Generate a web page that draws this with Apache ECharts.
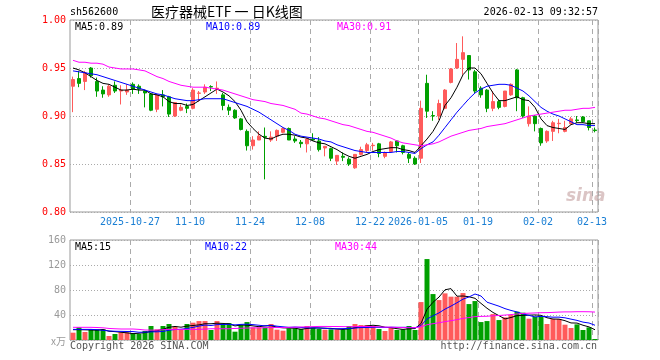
<!DOCTYPE html>
<html><head><meta charset="utf-8">
<script src="https://cdn.jsdelivr.net/npm/echarts@6/dist/echarts.min.js"></script>
<style>html,body{margin:0;padding:0;background:#fff}#c{width:660px;height:360px}</style>
</head><body><div id="c"></div>
<script>
const dates = ['2025-10-13','2025-10-14','2025-10-15','2025-10-16','2025-10-17','2025-10-20','2025-10-21','2025-10-22','2025-10-23','2025-10-24',
'2025-10-27','2025-10-28','2025-10-29','2025-10-30','2025-10-31','2025-11-03','2025-11-04','2025-11-05','2025-11-06','2025-11-07',
'2025-11-10','2025-11-11','2025-11-12','2025-11-13','2025-11-14','2025-11-17','2025-11-18','2025-11-19','2025-11-20','2025-11-21',
'2025-11-24','2025-11-25','2025-11-26','2025-11-27','2025-11-28','2025-12-01','2025-12-02','2025-12-03','2025-12-04','2025-12-05',
'2025-12-08','2025-12-09','2025-12-10','2025-12-11','2025-12-12','2025-12-15','2025-12-16','2025-12-17','2025-12-18','2025-12-19',
'2025-12-22','2025-12-23','2025-12-24','2025-12-25','2025-12-26','2025-12-29','2025-12-30','2025-12-31','2026-01-05','2026-01-06',
'2026-01-07','2026-01-08','2026-01-09','2026-01-12','2026-01-13','2026-01-14','2026-01-15','2026-01-16','2026-01-19','2026-01-20',
'2026-01-21','2026-01-22','2026-01-23','2026-01-26','2026-01-27','2026-01-28','2026-01-29','2026-01-30','2026-02-02','2026-02-03',
'2026-02-04','2026-02-05','2026-02-06','2026-02-09','2026-02-10','2026-02-11','2026-02-12','2026-02-13'];

const open = [0.931,0.939,0.936,0.950,0.936,0.927,0.922,0.932,0.926,0.925,
0.933,0.931,0.926,0.923,0.907,0.922,0.920,0.900,0.906,0.910,
0.908,0.9236,0.925,0.9306,0.928,0.922,0.909,0.906,0.897,0.884,
0.869,0.875,0.8788,0.875,0.879,0.883,0.887,0.876,0.8726,0.871,
0.876,0.874,0.8667,0.866,0.853,0.858,0.855,0.846,0.860,0.864,
0.8691,0.871,0.858,0.863,0.874,0.869,0.860,0.856,0.856,0.934,
0.9004,0.900,0.908,0.935,0.950,0.959,0.963,0.946,0.929,0.927,
0.908,0.915,0.910,0.922,0.948,0.919,0.892,0.900,0.887,0.874,
0.884,0.8920,0.884,0.892,0.8959,0.899,0.895,0.8854];
const close = [0.938,0.934,0.945,0.942,0.926,0.923,0.931,0.926,0.927,0.927,
0.928,0.928,0.924,0.906,0.922,0.920,0.902,0.914,0.909,0.908,
0.927,0.924,0.930,0.9302,0.929,0.911,0.906,0.898,0.886,0.869,
0.875,0.879,0.8778,0.878,0.885,0.887,0.875,0.874,0.8712,0.876,
0.875,0.865,0.8684,0.856,0.859,0.857,0.850,0.860,0.865,0.870,
0.8695,0.861,0.862,0.873,0.869,0.862,0.856,0.850,0.908,0.905,
0.9000,0.913,0.927,0.949,0.959,0.966,0.948,0.926,0.922,0.908,
0.915,0.909,0.926,0.933,0.919,0.900,0.900,0.892,0.872,0.884,
0.893,0.8924,0.888,0.897,0.8952,0.894,0.888,0.8848];
const high = [0.941,0.947,0.947,0.951,0.940,0.931,0.933,0.936,0.932,0.933,
0.935,0.933,0.927,0.924,0.923,0.927,0.921,0.914,0.912,0.913,
0.929,0.926,0.933,0.932,0.936,0.924,0.912,0.907,0.898,0.886,
0.879,0.884,0.888,0.884,0.886,0.888,0.888,0.879,0.875,0.877,
0.882,0.878,0.8684,0.867,0.859,0.862,0.857,0.860,0.868,0.872,
0.872,0.872,0.863,0.874,0.875,0.870,0.862,0.858,0.916,0.943,
0.905,0.917,0.928,0.950,0.976,0.983,0.963,0.948,0.931,0.928,
0.926,0.917,0.926,0.934,0.949,0.920,0.910,0.901,0.888,0.885,
0.895,0.897,0.895,0.899,0.900,0.900,0.895,0.888];
const low = [0.904,0.930,0.927,0.940,0.920,0.919,0.920,0.924,0.912,0.922,
0.923,0.923,0.909,0.905,0.904,0.910,0.899,0.899,0.905,0.903,
0.907,0.915,0.923,0.926,0.923,0.906,0.901,0.897,0.885,0.864,
0.865,0.875,0.834,0.873,0.874,0.882,0.875,0.872,0.867,0.862,
0.874,0.863,0.858,0.853,0.849,0.853,0.848,0.845,0.859,0.862,
0.864,0.857,0.856,0.863,0.862,0.860,0.851,0.849,0.851,0.898,
0.895,0.896,0.907,0.934,0.949,0.943,0.938,0.924,0.919,0.904,
0.905,0.907,0.909,0.921,0.905,0.898,0.889,0.884,0.869,0.872,
0.874,0.882,0.883,0.891,0.893,0.893,0.885,0.883];

const ma5 = [0.950,0.948,0.945,0.941,0.937,0.934,0.933,0.930,0.927,0.927,
0.928,0.927,0.927,0.923,0.922,0.920,0.915,0.913,0.913,0.911,
0.912,0.916,0.920,0.924,0.928,0.925,0.921,0.915,0.906,0.894,
0.887,0.881,0.877,0.876,0.879,0.881,0.881,0.880,0.878,0.877,
0.874,0.872,0.871,0.868,0.865,0.861,0.858,0.856,0.858,0.860,
0.863,0.865,0.866,0.867,0.867,0.865,0.864,0.862,0.869,0.876,
0.884,0.895,0.911,0.919,0.930,0.943,0.950,0.950,0.944,0.934,
0.924,0.916,0.916,0.918,0.920,0.917,0.916,0.909,0.897,0.890,
0.888,0.887,0.886,0.891,0.893,0.893,0.892,0.892];
const ma10 = [0.947,0.946,0.945,0.944,0.943,0.941,0.939,0.937,0.935,0.933,
0.931,0.929,0.927,0.925,0.923,0.922,0.920,0.918,0.917,0.916,
0.916,0.917,0.918,0.918,0.918,0.918,0.916,0.914,0.912,0.910,
0.907,0.904,0.900,0.896,0.892,0.888,0.885,0.881,0.879,0.878,
0.877,0.876,0.874,0.873,0.870,0.868,0.866,0.864,0.863,0.862,
0.862,0.862,0.862,0.862,0.863,0.863,0.862,0.861,0.866,0.870,
0.873,0.880,0.888,0.896,0.904,0.911,0.918,0.924,0.928,0.931,
0.932,0.933,0.933,0.932,0.929,0.926,0.921,0.915,0.909,0.905,
0.902,0.900,0.897,0.894,0.891,0.891,0.890,0.890];
const ma30 = [0.958,0.956,0.956,0.955,0.955,0.954,0.951,0.950,0.949,0.949,
0.949,0.948,0.947,0.944,0.941,0.939,0.936,0.934,0.932,0.931,
0.930,0.930,0.930,0.929,0.928,0.927,0.925,0.923,0.921,0.919,
0.917,0.916,0.915,0.913,0.912,0.911,0.909,0.907,0.903,0.902,
0.900,0.898,0.897,0.895,0.893,0.891,0.890,0.888,0.886,0.884,
0.883,0.881,0.879,0.877,0.874,0.872,0.871,0.870,0.869,0.870,
0.871,0.873,0.876,0.879,0.881,0.883,0.885,0.886,0.887,0.889,
0.890,0.891,0.892,0.894,0.896,0.898,0.900,0.901,0.902,0.903,
0.904,0.905,0.906,0.906,0.907,0.908,0.908,0.909];

const volume = [11.7,20.2,12.8,17.0,17.0,17.0,6.4,9.6,12.2,12.2,
10.6,9.6,14.4,22.4,17.0,22.4,25.6,21.3,16.0,25.6,
27.7,30.3,30.3,16.0,30.3,25.6,27.1,13.3,23.9,28.7,
20.2,20.2,20.2,25.6,16.5,14.9,18.6,18.6,17.6,22.4,
19.7,17.6,16.5,17.0,17.0,16.5,22.4,25.6,23.9,23.9,
22.4,17.6,14.4,20.2,16.0,17.0,22.4,16.0,60.7,129.5,
73.5,63.9,74.6,69.3,69.3,75.1,57.5,62.3,28.7,30.3,
41.5,31.9,36.2,39.9,45.3,43.7,34.1,37.3,37.3,25.6,
33.5,33.5,24.5,19.2,25.0,16.0,20.2,1.6];
const volMa5 = [16.5,16.5,16.3,16.0,15.7,16.8,14.0,13.4,12.4,11.5,
10.2,10.8,11.8,13.8,14.8,17.2,20.4,21.7,20.5,22.2,
23.2,24.2,26.0,26.0,26.9,26.5,25.9,22.5,24.0,23.7,
22.6,21.3,22.6,23.0,20.5,19.5,19.2,18.8,17.2,18.4,
19.4,19.2,18.8,18.6,17.6,16.9,17.9,19.7,21.1,22.5,
23.6,22.7,20.4,19.7,18.1,17.0,18.0,18.3,26.4,49.1,
60.4,68.7,80.4,82.2,70.1,70.4,69.2,66.7,58.6,50.8,
44.1,38.9,33.7,36.0,39.0,39.4,39.8,40.1,39.5,35.6,
33.6,33.4,30.9,27.3,27.1,23.6,21.0,16.4];
const volMa10 = [17.0,17.0,17.0,17.0,16.5,15.5,14.5,14.0,13.8,13.6,
13.5,12.4,12.6,13.1,13.1,13.7,15.6,16.8,17.2,18.5,
20.2,22.3,23.9,23.2,24.6,24.9,25.0,24.2,25.0,25.3,
24.6,23.6,22.6,23.5,22.1,21.1,20.2,20.7,20.1,19.5,
19.4,19.2,18.8,17.9,18.0,18.2,18.5,19.2,19.9,20.0,
20.3,20.3,20.1,20.4,20.3,20.3,20.3,19.4,23.1,33.6,
38.7,43.4,49.4,54.3,59.6,65.4,68.9,73.6,70.4,60.5,
57.3,54.1,50.2,47.3,44.9,41.7,39.4,36.9,37.8,37.3,
36.5,36.6,35.5,33.4,31.4,28.6,27.2,23.6];
const volMa30 = [20.3,20.3,20.3,20.3,20.0,19.5,18.5,18.0,17.6,17.6,
17.6,17.0,16.0,15.8,15.8,16.5,17.0,17.0,17.0,17.0,
17.0,17.0,17.5,18.0,18.0,18.0,18.0,18.5,18.8,19.1,
19.4,19.4,19.7,20.0,19.9,19.9,20.3,20.6,20.8,21.1,
21.4,21.7,21.7,21.6,21.6,21.4,21.3,21.4,21.7,21.6,
21.4,21.0,20.5,20.6,20.1,19.9,19.7,19.8,21.0,24.4,
26.1,27.6,29.4,30.9,32.6,34.6,35.9,37.4,37.8,38.0,
38.8,39.2,39.9,40.7,41.6,42.5,42.9,43.3,43.7,43.8,
44.2,44.7,45.0,45.0,45.3,45.3,45.2,44.7];

const tickDates = ['2025-10-27','2025-11-10','2025-11-24','2025-12-08','2025-12-22','2026-01-05','2026-01-19','2026-02-02','2026-02-13'];
const tickLabels = ['2025-10-27','11-10','11-24','12-08','12-22','2026-01-05','01-19','02-02','02-13'];

const UP = '#ff5b5b', DOWN = '#00a000';
const MONO = '"DejaVu Sans Mono", "Liberation Mono", monospace';
const isTick = (i, v) => tickDates.indexOf(v) >= 0;

const chart = echarts.init(document.getElementById('c'), null, {renderer: 'canvas'});
const xCommon = {
  type: 'category', data: dates, boundaryGap: true,
  axisLine: {show: false}, axisTick: {show: false},
  splitLine: {show: true, interval: isTick, lineStyle: {color: '#aaaaaa', type: [5, 4], width: 1}}
};
const txt = (x, y, text, fill, extra) => Object.assign({
  type: 'text', x: x, y: y, silent: true,
  style: Object.assign({text: text, fill: fill, font: '10px ' + MONO, textVerticalAlign: 'middle', textAlign: 'left'}, extra || {})
});

chart.setOption({
  animation: false,
  backgroundColor: '#fff',
  grid: [
    {left: 70, right: 62, top: 20, height: 192, show: true, borderColor: '#999', borderWidth: 1, backgroundColor: 'transparent'},
    {left: 70, right: 62, top: 240, height: 100, show: true, borderColor: '#999', borderWidth: 1, backgroundColor: 'transparent'}
  ],
  xAxis: [
    Object.assign({}, xCommon, {gridIndex: 0,
      axisLabel: {show: true, interval: isTick, formatter: v => tickLabels[tickDates.indexOf(v)],
        color: '#1a7fd4', fontSize: 10, fontFamily: MONO, margin: 5, padding: [0, 6, 0, 0]}}),
    Object.assign({}, xCommon, {gridIndex: 1, axisLabel: {show: false}})
  ],
  yAxis: [
    {type: 'value', gridIndex: 0, min: 0.80, max: 1.00, interval: 0.05,
      axisLine: {show: false}, axisTick: {show: false},
      axisLabel: {color: '#ff0000', fontSize: 10, fontFamily: MONO, margin: 4, formatter: v => v.toFixed(2)},
      splitLine: {show: true, lineStyle: {color: '#aaaaaa', type: [1, 2]}}},
    {type: 'value', gridIndex: 1, min: 0, max: 160, interval: 40,
      axisLine: {show: false}, axisTick: {show: false},
      axisLabel: {color: '#999999', fontSize: 10, fontFamily: MONO, margin: 4, formatter: v => v === 0 ? '' : String(v)},
      splitLine: {show: true, lineStyle: {color: '#aaaaaa', type: [1, 2]}}}
  ],
  series: [
    {type: 'candlestick', xAxisIndex: 0, yAxisIndex: 0, barWidth: 4,
      data: dates.map((d, i) => [open[i], close[i], low[i], high[i]]),
      itemStyle: {color: UP, color0: DOWN, borderColor: UP, borderColor0: DOWN, borderWidth: 1}},
    {type: 'line', xAxisIndex: 0, yAxisIndex: 0, data: ma5, symbol: 'none', lineStyle: {color: '#000', width: 1}, z: 5},
    {type: 'line', xAxisIndex: 0, yAxisIndex: 0, data: ma10, symbol: 'none', lineStyle: {color: '#0000ff', width: 1}, z: 5},
    {type: 'line', xAxisIndex: 0, yAxisIndex: 0, data: ma30, symbol: 'none', lineStyle: {color: '#ff00ff', width: 1}, z: 5},
    {type: 'bar', xAxisIndex: 1, yAxisIndex: 1, barWidth: 5,
      data: volume.map((v, i) => ({value: v, itemStyle: {color: close[i] >= open[i] ? UP : DOWN}}))},
    {type: 'line', xAxisIndex: 1, yAxisIndex: 1, data: volMa5, symbol: 'none', lineStyle: {color: '#000', width: 1}, z: 5},
    {type: 'line', xAxisIndex: 1, yAxisIndex: 1, data: volMa10, symbol: 'none', lineStyle: {color: '#0000ff', width: 1}, z: 5},
    {type: 'line', xAxisIndex: 1, yAxisIndex: 1, data: volMa30, symbol: 'none', lineStyle: {color: '#ff00ff', width: 1}, z: 5}
  ],
  graphic: [
    txt(70, 12, 'sh562600', '#000'),
    txt(151, 12, '医疗器械ETF 一 日K线图', '#000', {font: '14px "Noto Sans CJK SC"'}),
    txt(598, 12, '2026-02-13 09:32:57', '#000', {textAlign: 'right'}),
    txt(75, 27, 'MA5:0.89', '#000'),
    txt(206, 27, 'MA10:0.89', '#0000ff'),
    txt(337, 27, 'MA30:0.91', '#ff00ff'),
    txt(75, 247, 'MA5:15', '#000'),
    txt(205, 247, 'MA10:22', '#0000ff'),
    txt(335, 247, 'MA30:44', '#ff00ff'),
    txt(66, 341, 'x万', '#999999', {textAlign: 'right', font: '10px "Noto Sans CJK SC"'}),
    txt(70, 346, 'Copyright 2026 SINA.COM', '#555555'),
    txt(597, 346, 'http://finance.sina.com.cn', '#555555', {textAlign: 'right'}),
    txt(566, 197, 'sina', 'rgba(190,150,150,0.55)', {font: 'italic bold 17px "DejaVu Sans"'})
  ]
});
</script>
</body></html>
